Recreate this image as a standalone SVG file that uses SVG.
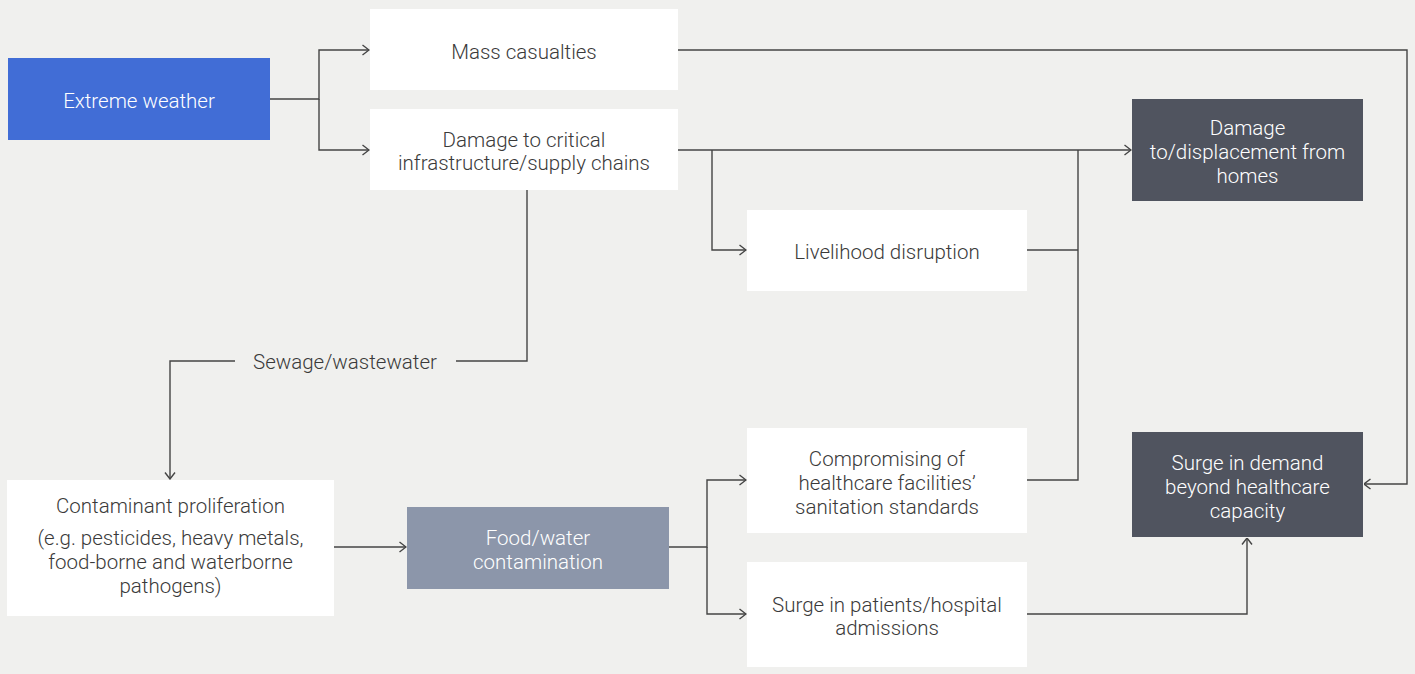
<svg xmlns="http://www.w3.org/2000/svg" width="1415" height="674" viewBox="0 0 1415 674">
  <style>
    .bg { fill: #f0f0ee; }
    .box-white { fill: #ffffff; }
    .box-blue { fill: #416dd6; }
    .box-dark { fill: #50545f; }
    .box-slate { fill: #8c96aa; }
    text { font-family: Roboto, "Liberation Sans", Arial, sans-serif; font-weight: 300; font-size: 20.5px; text-anchor: middle; }
    .dark-text { fill: #3a3a3a; }
    .light-text { fill: #ffffff; }
    .conn { fill: none; stroke: #444444; stroke-width: 1.4; }
  </style>
  <defs>
    <marker id="arrow" markerUnits="userSpaceOnUse" viewBox="0 0 8 12" refX="7.5" refY="6" markerWidth="8" markerHeight="12" orient="auto">
      <path d="M1,1 L7.5,6 L1,11" fill="none" stroke="#444444" stroke-width="1.4"/>
    </marker>
  </defs>

  <rect class="bg" x="0" y="0" width="1415" height="674"/>

  <!-- connectors -->
  <g id="connectors">
    <path class="conn" d="M270,99 H319 V50 H369" marker-end="url(#arrow)"/>
    <path class="conn" d="M319,99 V150 H369" marker-end="url(#arrow)"/>
    <path class="conn" d="M678,50 H1407 V484 H1364" marker-end="url(#arrow)"/>
    <path class="conn" d="M678,150 H1131" marker-end="url(#arrow)"/>
    <path class="conn" d="M712,150 V250 H746" marker-end="url(#arrow)"/>
    <path class="conn" d="M1027,250 H1078"/>
    <path class="conn" d="M1027,480 H1078 V150"/>
    <path class="conn" d="M527,190 V361 H456"/>
    <path class="conn" d="M235,361 H170 V479" marker-end="url(#arrow)"/>
    <path class="conn" d="M334,547 H406" marker-end="url(#arrow)"/>
    <path class="conn" d="M669,547 H707 V480 H746" marker-end="url(#arrow)"/>
    <path class="conn" d="M707,547 V614 H746" marker-end="url(#arrow)"/>
    <path class="conn" d="M1027,614 H1247 V538" marker-end="url(#arrow)"/>
  </g>

  <g id="extreme-weather">
    <rect class="box-blue" x="8" y="58" width="262" height="82"/>
    <text class="light-text" x="139" y="107.5">Extreme weather</text>
  </g>

  <g id="mass-casualties">
    <rect class="box-white" x="370" y="9" width="308" height="81"/>
    <text class="dark-text" x="524" y="59">Mass casualties</text>
  </g>

  <g id="infrastructure-damage">
    <rect class="box-white" x="370" y="109" width="308" height="81"/>
    <text class="dark-text" x="524" y="146.5">Damage to critical</text>
    <text class="dark-text" x="524" y="170">infrastructure/supply chains</text>
  </g>

  <g id="home-displacement">
    <rect class="box-dark" x="1132" y="99" width="231" height="102"/>
    <text class="light-text" x="1247.5" y="134.5">Damage</text>
    <text class="light-text" x="1247.5" y="158.5">to/displacement from</text>
    <text class="light-text" x="1247.5" y="182.5">homes</text>
  </g>

  <g id="livelihood-disruption">
    <rect class="box-white" x="747" y="210" width="280" height="81"/>
    <text class="dark-text" x="887" y="259">Livelihood disruption</text>
  </g>

  <g id="sewage-label">
    <text class="dark-text" x="345" y="369">Sewage/wastewater</text>
  </g>

  <g id="contaminant-proliferation">
    <rect class="box-white" x="7" y="480" width="327" height="136"/>
    <text class="dark-text" x="170.5" y="512.5">Contaminant proliferation</text>
    <text class="dark-text" x="170.5" y="545">(e.g. pesticides, heavy metals,</text>
    <text class="dark-text" x="170.5" y="568.5">food-borne and waterborne</text>
    <text class="dark-text" x="170.5" y="592.5">pathogens)</text>
  </g>

  <g id="food-water-contamination">
    <rect class="box-slate" x="407" y="507" width="262" height="82"/>
    <text class="light-text" x="538" y="545">Food/water</text>
    <text class="light-text" x="538" y="568.5">contamination</text>
  </g>

  <g id="sanitation-standards">
    <rect class="box-white" x="747" y="428" width="280" height="105"/>
    <text class="dark-text" x="887" y="465.5">Compromising of</text>
    <text class="dark-text" x="887" y="489.5">healthcare facilities’</text>
    <text class="dark-text" x="887" y="513.5">sanitation standards</text>
  </g>

  <g id="hospital-admissions">
    <rect class="box-white" x="747" y="562" width="280" height="105"/>
    <text class="dark-text" x="887" y="611.5">Surge in patients/hospital</text>
    <text class="dark-text" x="887" y="635">admissions</text>
  </g>

  <g id="healthcare-capacity">
    <rect class="box-dark" x="1132" y="432" width="231" height="105"/>
    <text class="light-text" x="1247.5" y="470">Surge in demand</text>
    <text class="light-text" x="1247.5" y="493.5">beyond healthcare</text>
    <text class="light-text" x="1247.5" y="517.5">capacity</text>
  </g>
</svg>
